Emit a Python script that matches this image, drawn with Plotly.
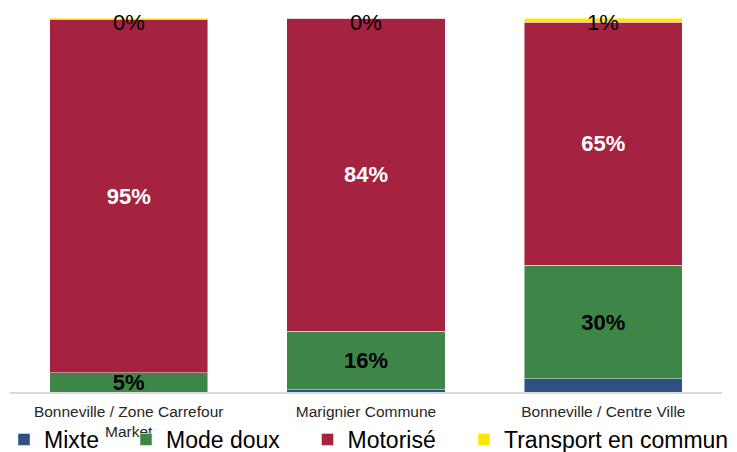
import plotly.graph_objects as go

categories = ["Bonneville / Zone Carrefour<br>Market", "Marignier Commune", "Bonneville / Centre Ville"]
mixte = [0.0, 0.6, 3.5]
mode_doux = [5.1, 15.6, 30.4]
motorise = [94.6, 83.7, 65.0]
transport = [0.3, 0.1, 1.1]

colors = {
    "Mixte": "#2F4F85",
    "Mode doux": "#3D8648",
    "Motorisé": "#A52240",
    "Transport en commun": "#FFE800",
}
FONT = "Arial, Liberation Sans, sans-serif"

fig = go.Figure()
series = [
    ("Mixte", mixte, None, "legend"),
    ("Mode doux", mode_doux, dict(color="black", size=22, family=FONT, weight="bold"), "legend2"),
    ("Motorisé", motorise, dict(color="white", size=22, family=FONT, weight="bold"), "legend3"),
    ("Transport en commun", transport, None, "legend4"),
]
for name, vals, tf, leg in series:
    if tf is not None:
        kw = dict(texttemplate="%{y:.0f}%", textposition="inside", insidetextanchor="middle",
                  textangle=0, insidetextfont=tf)
    else:
        kw = dict(textposition="none")
    fig.add_trace(go.Bar(
        x=categories, y=vals, name=name, legend=leg,
        marker=dict(color=colors[name], line=dict(color="rgba(255,255,255,0.6)", width=0.75)),
        **kw,
    ))

# Transport labels placed at the top of each stack
totals = [a + b + c + d for a, b, c, d in zip(mixte, mode_doux, motorise, transport)]
for cat, tot, v in zip(categories, totals, transport):
    fig.add_annotation(x=cat, y=tot, text=f"{v:.0f}%", showarrow=False, yanchor="middle",
                       yshift=-4.5, font=dict(family=FONT, size=22, color="black"))

W, H = 737, 452
ml, mr, mt, mb = 10, 15, 18, 60

def cx(p):
    return p / W

def cy(p):
    return (H - p) / H

leg_common = dict(orientation="h", yanchor="middle", xanchor="left", yref="container", xref="container",
                  y=cy(439.5), font=dict(family=FONT, size=23, color="black"), bgcolor="rgba(0,0,0,0)",
                  borderwidth=0, itemclick=False, itemdoubleclick=False)
fig.update_layout(
    width=W, height=H,
    margin=dict(l=ml, r=mr, t=mt, b=mb, autoexpand=False),
    barmode="stack", bargap=0.333,
    plot_bgcolor="white", paper_bgcolor="white",
    font=dict(family=FONT),
    showlegend=True,
    legend=dict(x=cx(4), **leg_common),
    legend2=dict(x=cx(126), **leg_common),
    legend3=dict(x=cx(307.5), **leg_common),
    legend4=dict(x=cx(464), **leg_common),
    uniformtext=dict(minsize=22, mode="show"),
)
fig.update_xaxes(showline=True, linecolor="#D9D9D9", linewidth=2, ticks="", ticklabelstandoff=4,
                 tickfont=dict(family=FONT, size=15.5, color="#262626"), fixedrange=True)
fig.update_yaxes(range=[0, 100], visible=False, showgrid=False, fixedrange=True)

fig.write_html("out.html", config={"displayModeBar": False},
               post_script="document.body.style.margin='0px';document.body.style.overflow='hidden';")
